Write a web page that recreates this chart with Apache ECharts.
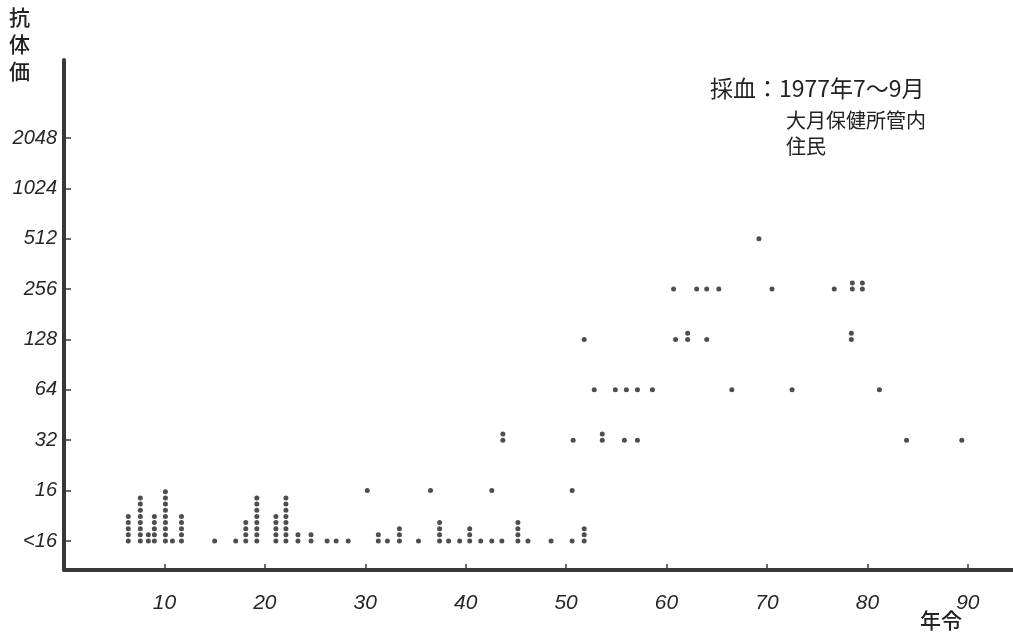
<!DOCTYPE html>
<html><head><meta charset="utf-8">
<script src="https://cdn.jsdelivr.net/npm/echarts@6/dist/echarts.min.js"></script>
<style>html,body{margin:0;padding:0;background:#fff}#c{width:1013px;height:636px}</style>
</head><body><div id="c"></div>
<script>
// Titer levels (index 0 = "<16")
const levelLabels = ['<16','16','32','64','128','256','512','1024','2048'];
const levelTicks = [0,1,2,3,4,5,6,7,8];
const ageTicks = [10,20,30,40,50,60,70,80,90];

// Ages and number of persons at each titer level
const agesLt16   = [6.4,7.6,8.4,9.0,10.1,10.8,11.7,15.0,17.1,18.1,19.2,21.1,22.1,23.3,24.6,26.2,27.1,28.3,31.3,32.2,33.4,35.3,37.4,38.3,39.4,40.4,41.5,42.6,43.6,45.2,46.2,48.5,50.6,51.8];
const countsLt16 = [5,  8,  2,  5,  9,   1,   5,   1,   1,   4,   8,   5,   8,   2,   2,   1,   1,   1,   2,   1,   3,   1,   4,   1,   1,   3,   1,   1,   1,   4,   1,   1,   1,   3];
const ages16   = [30.2,36.5,42.6,50.6];
const counts16 = [1,1,1,1];
const ages32   = [43.7,50.7,53.6,55.8,57.1,83.9,89.4];
const counts32 = [2,1,2,1,1,1,1];
const ages64   = [52.8,54.9,56.0,57.1,58.6,66.5,72.5,81.2];
const counts64 = [1,1,1,1,1,1,1,1];
const ages128   = [51.8,60.9,62.1,64.0,78.4];
const counts128 = [1,1,2,1,2];
const ages256   = [60.7,63.0,64.0,65.2,70.5,76.7,78.5,79.5];
const counts256 = [1,1,1,1,1,1,2,2];
const ages512   = [69.2];
const counts512 = [1];

const STACK = 0.122; // vertical spacing of stacked dots, in level units
function build(level, ages, counts){
  const out = [];
  ages.forEach((a,i)=>{ for(let k=0;k<counts[i];k++) out.push([a, level + k*STACK]); });
  return out;
}
const points = [].concat(
  build(0, agesLt16, countsLt16),
  build(1, ages16, counts16),
  build(2, ages32, counts32),
  build(3, ages64, counts64),
  build(4, ages128, counts128),
  build(5, ages256, counts256),
  build(6, ages512, counts512)
);

const chart = echarts.init(document.getElementById('c'), null, {renderer:'canvas'});
const axisColor = '#383838';
const labelFont = {fontFamily:'Liberation Sans', fontStyle:'italic', color:'#262626'};
chart.setOption({
  backgroundColor:'#ffffff',
  animation:false,
  grid:{left:64, right:0, top:60, bottom:66, containLabel:false},
  xAxis:{
    type:'value', min:0, max:94.5,
    axisLine:{show:true, onZero:false, lineStyle:{color:axisColor, width:4}},
    axisTick:{show:true, inside:true, length:6, lineStyle:{color:axisColor, width:1.5}, customValues:ageTicks},
    axisLabel:Object.assign({margin:23, fontSize:21, customValues:ageTicks}, labelFont),
    splitLine:{show:false}
  },
  yAxis:{
    type:'value', min:-0.576, max:9.548,
    axisLine:{show:true, onZero:false, lineStyle:{color:axisColor, width:4, cap:'round'}},
    axisTick:{show:true, inside:true, length:7, lineStyle:{color:axisColor, width:1.5}, customValues:levelTicks},
    axisLabel:Object.assign({margin:7, fontSize:20, customValues:levelTicks, formatter:v=>levelLabels[Math.round(v)]}, labelFont),
    splitLine:{show:false}
  },
  series:[{
    type:'scatter', data:points, symbol:'circle', symbolSize:5,
    itemStyle:{color:'#222'}
  }],
  graphic:[
    {type:'text', left:9, top:4, style:{text:'抗\n体\n価', font:'500 21px "Noto Sans CJK JP"', lineHeight:27, fill:'#222'}},
    {type:'text', left:710, top:77, style:{text:'採血：1977年7～9月', font:'23px "Noto Sans CJK JP"', fill:'#222'}},
    {type:'text', left:786, top:107, style:{text:'大月保健所管内\n住民', font:'20px "Noto Sans CJK JP"', lineHeight:26, fill:'#222'}},
    {type:'text', left:920, top:610, style:{text:'年令', font:'500 21px "Noto Sans CJK JP"', fill:'#222'}}
  ]
});
</script></body></html>
